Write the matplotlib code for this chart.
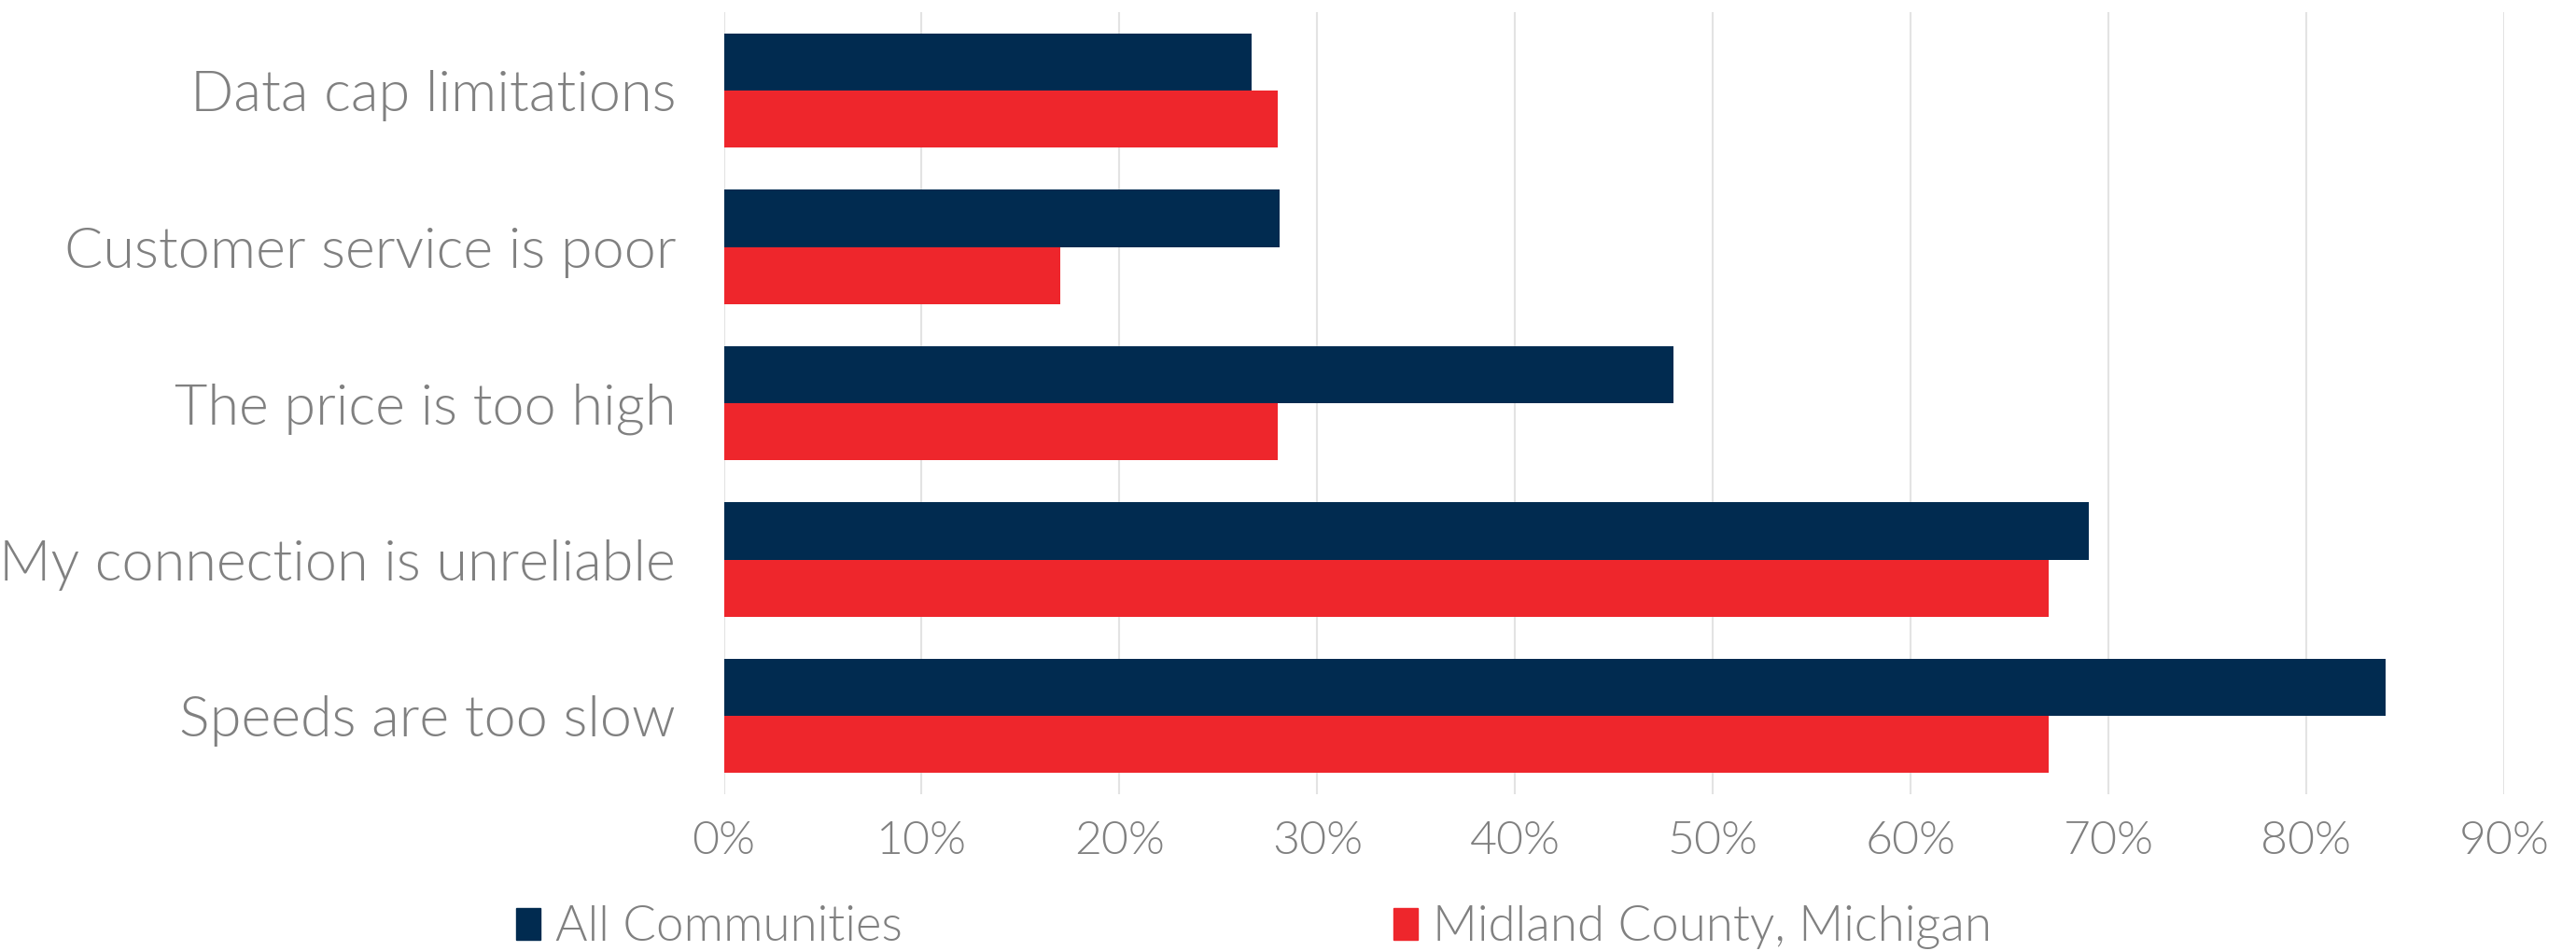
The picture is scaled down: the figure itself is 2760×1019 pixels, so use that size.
import numpy as np
from matplotlib import pyplot as plt
from matplotlib.patches import Patch
from matplotlib.ticker import PercentFormatter

# survey answers, top to bottom as in the chart
reasons = ['Data cap limitations', 'Customer service is poor', 'The price is too high',
           'My connection is unreliable', 'Speeds are too slow']
allCommunities = [26.7, 28.1, 48.0, 69.0, 84.0]
midland = [28.0, 17.0, 28.0, 67.0, 67.0]
seriesNames = ['All Communities', 'Midland County, Michigan']
xticks = [0, 10, 20, 30, 40, 50, 60, 70, 80, 90]

navy = '#012B50'
red = '#EE262C'
grey = '#808080'

plt.rcParams['font.family'] = ['Lato', 'DejaVu Sans']
plt.rcParams['font.weight'] = 300   # Lato Light

fig = plt.figure(figsize=(27.6, 10.19), dpi=100)
axis = fig.add_axes([0.281, 0.165, 0.972 - 0.281, 0.987 - 0.165])

y = np.arange(len(reasons))
h = 0.365
axis.barh(y - h / 2, allCommunities, height=h, color=navy, label=seriesNames[0], zorder=3)
axis.barh(y + h / 2, midland, height=h, color=red, label=seriesNames[1], zorder=3)

axis.set_ylim(len(reasons) - 0.5, -0.5)
axis.set_xlim(0, 90)
axis.set_xticks(xticks)
axis.xaxis.set_major_formatter(PercentFormatter(decimals=0))
axis.set_yticks(y)
axis.set_yticklabels(reasons)
axis.grid(axis='x', color='#E3E3E3', linewidth=1.5, zorder=0)
for side in axis.spines.values():
    side.set_visible(False)
axis.tick_params(axis='both', length=0, colors=grey)
axis.tick_params(axis='x', labelsize=36, pad=20)
axis.tick_params(axis='y', labelsize=44, pad=37)

handles = [Patch(color=navy, label=seriesNames[0]), Patch(color=red, label=seriesNames[1])]
fig.legend(handles=handles, ncol=2, loc='lower left', bbox_to_anchor=(0.183, -0.045),
           frameon=False, fontsize=38, labelcolor=grey, handlelength=0.5, handleheight=0.6,
           handletextpad=0.3, columnspacing=9.97)

fig.savefig('out.png', dpi=100)
